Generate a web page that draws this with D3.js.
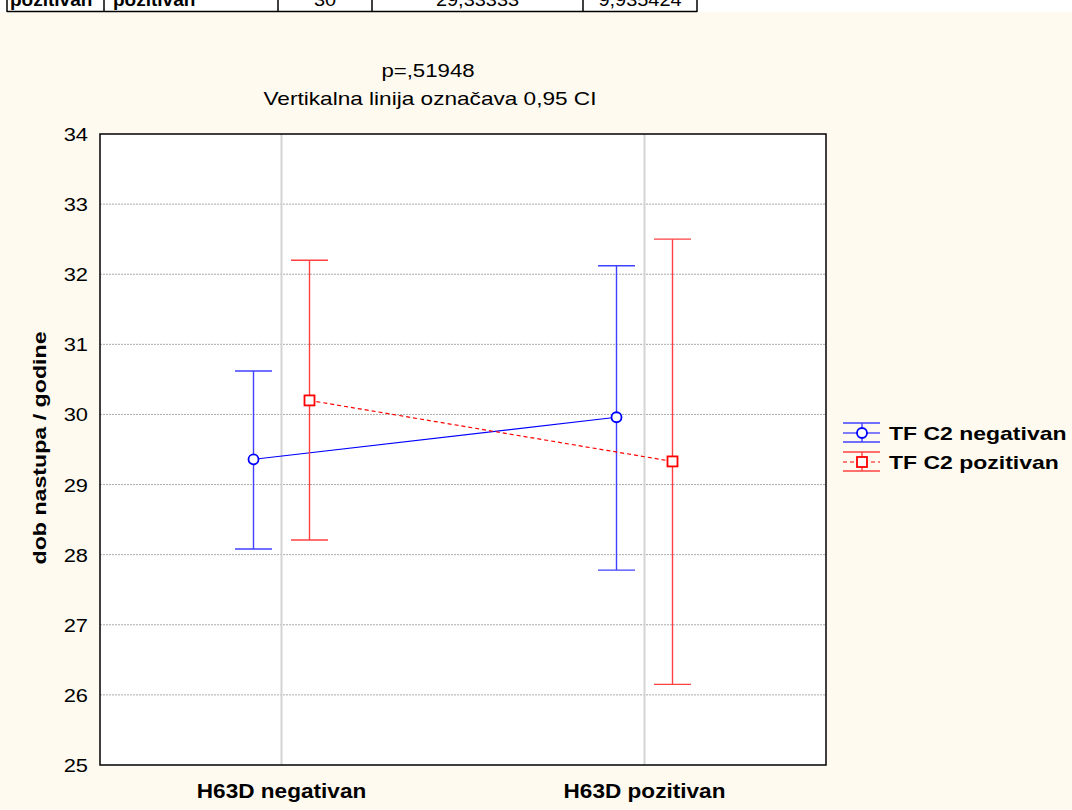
<!DOCTYPE html>
<html><head><meta charset="utf-8">
<script src="https://cdn.jsdelivr.net/npm/d3@7"></script>
<style>
body{margin:0;padding:0;background:#fffaef;}
svg{display:block;}
text{font-family:"Liberation Sans",Arial,Helvetica,sans-serif;}
</style></head>
<body>
<script>
// ---- data ----
const categories = ["H63D negativan", "H63D pozitivan"];
const seriesNames = ["TF C2 negativan", "TF C2 pozitivan"];
const meansNeg = [29.36, 29.96];
const lowerNeg = [28.08, 27.78];
const upperNeg = [30.62, 32.12];
const meansPos = [30.20, 29.33];
const lowerPos = [28.21, 26.15];
const upperPos = [32.20, 32.50];
const yTicks = [25, 26, 27, 28, 29, 30, 31, 32, 33, 34];
const titleLines = ["p=,51948", "Vertikalna linija označava 0,95 CI"];
const yLabel = "dob nastupa / godine";
const tableRow = ["pozitivan", "pozitivan", "30", "29,33333", "9,935424"];
const tableCols = [7, 104, 278, 372, 583, 697];

(function () {
const W = 1072, H = 810;
const svg = d3.select("body").append("svg").attr("width", W).attr("height", H);
svg.append("rect").attr("width", W).attr("height", H).attr("fill", "#fffaef");

const pL = 100, pR = 826, pT = 134, pB = 765;
const x = d3.scalePoint().domain(categories).range([pL, pR]).padding(0.5);
const y = d3.scaleLinear().domain([25, 34]).range([pB, pT]);
const off = 28;

function stretched(g, px, py, rot, str, opts) {
  return g.append("g").attr("transform", `translate(${px},${py}) rotate(${rot}) scale(${opts.sx || 1.17},1)`)
    .append("text").attr("x", 0).attr("y", 0)
    .attr("text-anchor", opts.anchor || "middle")
    .attr("font-size", opts.size || 19)
    .attr("font-weight", opts.weight || "normal")
    .attr("fill", "#000").text(str);
}

// table fragment at the top (cut off, as in the reference)
svg.append("rect").attr("x", 0).attr("y", 0).attr("width", W).attr("height", 12).attr("fill", "#ffffff");
const tg = svg.append("g");
tableRow.forEach((t, i) => {
  const bold = i < 2;
  const tx = bold ? tableCols[i] + (i === 0 ? 3 : 9) : (tableCols[i] + tableCols[i + 1]) / 2;
  stretched(tg, tx, 6, 0, t, { anchor: bold ? "start" : "middle", size: 19, weight: bold ? "bold" : "normal", sx: bold ? 1.0 : 1.05 });
});
tg.append("line").attr("x1", tableCols[0]).attr("x2", tableCols[5]).attr("y1", 11.5).attr("y2", 11.5).attr("stroke", "#000").attr("stroke-width", 1.5);
tableCols.forEach(xx => tg.append("line").attr("x1", xx).attr("x2", xx).attr("y1", 0).attr("y2", 12).attr("stroke", "#000").attr("stroke-width", 1.5));

// plot area
svg.append("rect").attr("x", pL).attr("y", pT).attr("width", pR - pL).attr("height", pB - pT).attr("fill", "#fff");

// grid
const grid = svg.append("g");
yTicks.forEach(v => {
  if (v === 25 || v === 34) return;
  grid.append("line").attr("x1", pL).attr("x2", pR).attr("y1", y(v)).attr("y2", y(v))
    .attr("stroke", "#aaaaaa").attr("stroke-width", 1).attr("stroke-dasharray", "2,1");
});
categories.forEach(c => {
  grid.append("line").attr("x1", x(c)).attr("x2", x(c)).attr("y1", pT).attr("y2", pB)
    .attr("stroke", "#d4d4d4").attr("stroke-width", 2);
});

// axes (D3 axis for tick positions)
const ya = svg.append("g").attr("transform", `translate(${pL},0)`).call(d3.axisLeft(y).tickValues(yTicks).tickSize(0));
const yTickData = [];
ya.selectAll(".tick").each(function (v) { yTickData.push(v); });
ya.remove();
yTickData.forEach(v => stretched(svg, pL - 12, y(v) + 7, 0, String(v), { anchor: "end", size: 19, sx: 1.15 }));

const xa = svg.append("g").attr("transform", `translate(0,${pB})`).call(d3.axisBottom(x).tickSize(0));
const xTickData = [];
xa.selectAll(".tick").each(function (c) { xTickData.push(c); });
xa.remove();
xTickData.forEach(c => stretched(svg, x(c), 798, 0, c, { size: 20, weight: "bold", sx: 1.13 }));

// frame
svg.append("rect").attr("x", pL).attr("y", pT).attr("width", pR - pL).attr("height", pB - pT)
  .attr("fill", "none").attr("stroke", "#000").attr("stroke-width", 1.5);

// titles
stretched(svg, 428, 77, 0, titleLines[0], { size: 19, sx: 1.17 });
stretched(svg, 430, 105, 0, titleLines[1], { size: 19, sx: 1.19 });
// y label
stretched(svg, 46, 448, -90, yLabel, { size: 19, weight: "bold", sx: 1.22 });

// series
const series = [
  { name: seriesNames[0], means: meansNeg, lo: lowerNeg, hi: upperNeg, color: "#0000ff", bar: "#4040ff", dx: -off, dash: null, shape: "circle" },
  { name: seriesNames[1], means: meansPos, lo: lowerPos, hi: upperPos, color: "#ff0000", bar: "#ff4040", dx: off, dash: "4,3", shape: "square" }
];
const capW = 37;
series.forEach(s => {
  const g = svg.append("g");
  categories.forEach((c, i) => {
    const cx = x(c) + s.dx;
    g.append("line").attr("x1", cx).attr("x2", cx).attr("y1", y(s.hi[i])).attr("y2", y(s.lo[i])).attr("stroke", s.bar).attr("stroke-width", 1.4);
    [s.hi[i], s.lo[i]].forEach(v => g.append("line").attr("x1", cx - capW / 2).attr("x2", cx + capW / 2).attr("y1", y(v)).attr("y2", y(v)).attr("stroke", s.bar).attr("stroke-width", 1.4));
  });
  const line = d3.line().x((d, i) => x(categories[i]) + s.dx).y(d => y(d));
  g.append("path").attr("d", line(s.means)).attr("fill", "none").attr("stroke", s.color).attr("stroke-width", 1.2)
    .attr("stroke-dasharray", s.dash);
  s.means.forEach((m, i) => {
    const cx = x(categories[i]) + s.dx;
    if (s.shape === "circle") {
      g.append("circle").attr("cx", cx).attr("cy", y(m)).attr("r", 5).attr("fill", "#fff").attr("stroke", s.color).attr("stroke-width", 1.8);
    } else {
      g.append("rect").attr("x", cx - 5).attr("y", y(m) - 5).attr("width", 10).attr("height", 10).attr("fill", "#fff").attr("stroke", s.color).attr("stroke-width", 1.8);
    }
  });
});

// legend
const lg = svg.append("g");
series.forEach((s, i) => {
  const cy = 433 + i * 29;
  const x0 = 843, x1 = 880, mx = 862;
  lg.append("line").attr("x1", x0).attr("x2", x1).attr("y1", cy - 10).attr("y2", cy - 10).attr("stroke", s.bar).attr("stroke-width", 1.4);
  lg.append("line").attr("x1", x0).attr("x2", x1).attr("y1", cy + 9).attr("y2", cy + 9).attr("stroke", s.bar).attr("stroke-width", 1.4);
  lg.append("line").attr("x1", mx).attr("x2", mx).attr("y1", cy - 10).attr("y2", cy + 9).attr("stroke", s.bar).attr("stroke-width", 1.4);
  lg.append("line").attr("x1", x0).attr("x2", x1).attr("y1", cy).attr("y2", cy).attr("stroke", s.color).attr("stroke-width", 1.2).attr("stroke-dasharray", s.dash);
  if (s.shape === "circle") {
    lg.append("circle").attr("cx", mx).attr("cy", cy).attr("r", 5).attr("fill", "#fff").attr("stroke", s.color).attr("stroke-width", 1.8);
  } else {
    lg.append("rect").attr("x", mx - 5).attr("y", cy - 5).attr("width", 10).attr("height", 10).attr("fill", "#fff").attr("stroke", s.color).attr("stroke-width", 1.8);
  }
  stretched(lg, 889, cy + 7, 0, s.name, { anchor: "start", size: 19, weight: "bold", sx: 1.21 });
});
})();
</script>
</body></html>
